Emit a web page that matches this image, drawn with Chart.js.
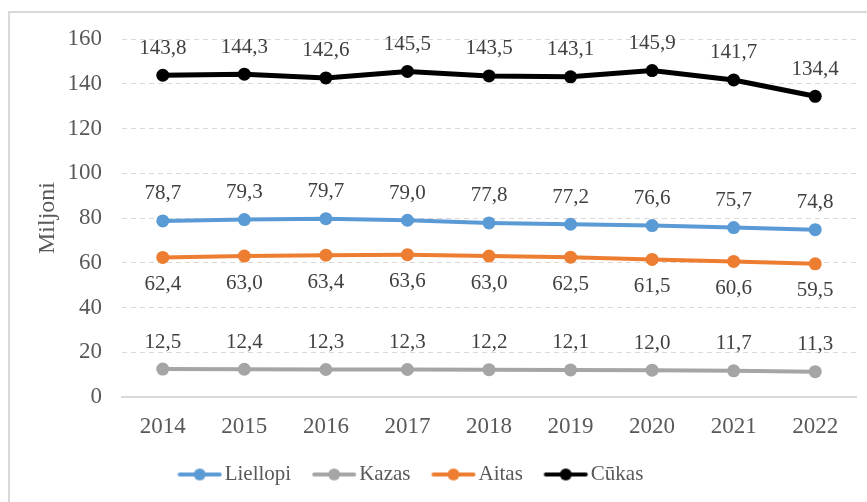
<!DOCTYPE html>
<html>
<head>
<meta charset="utf-8">
<script src="https://cdn.jsdelivr.net/npm/chart.js@4.4.1/dist/chart.umd.min.js"></script>
<style>
  html, body { margin: 0; padding: 0; background: #ffffff; }
  #frame { position: absolute; left: 8px; top: 11px; width: 900px; height: 600px; border: 2px solid #d9d9d9; box-sizing: border-box; }
  #wrap { position: absolute; left: 0; top: 0; width: 867px; height: 502px; }
</style>
</head>
<body>
<div id="frame"></div>
<div id="wrap"><canvas id="c" width="867" height="502"></canvas></div>
<script>
const years = ['2014', '2015', '2016', '2017', '2018', '2019', '2020', '2021', '2022'];
const liellopi = [78.7, 79.3, 79.7, 79.0, 77.8, 77.2, 76.6, 75.7, 74.8];
const kazas = [12.5, 12.4, 12.3, 12.3, 12.2, 12.1, 12.0, 11.7, 11.3];
const aitas = [62.4, 63.0, 63.4, 63.6, 63.0, 62.5, 61.5, 60.6, 59.5];
const cukas = [143.8, 144.3, 142.6, 145.5, 143.5, 143.1, 145.9, 141.7, 134.4];
const seriesNames = ['Liellopi', 'Kazas', 'Aitas', 'Cūkas'];
const seriesColors = ['#5B9BD5', '#A5A5A5', '#ED7D31', '#000000'];
const labelSide = ['above', 'above', 'below', 'above'];
const yTicks = [0, 20, 40, 60, 80, 100, 120, 140, 160];
const yTitle = 'Miljoni';

const SERIF = "'Liberation Serif', 'Times New Roman', serif";

function legendIcon(color) {
  const c = document.createElement('canvas');
  c.width = 66; c.height = 14;
  const g = c.getContext('2d');
  const cx = 42.25;
  g.strokeStyle = color; g.lineWidth = 4; g.lineCap = 'round';
  g.beginPath(); g.moveTo(cx - 20, 7); g.lineTo(cx + 20, 7); g.stroke();
  g.fillStyle = color;
  g.beginPath(); g.arc(cx, 7, 6, 0, Math.PI * 2); g.fill();
  return c;
}

const datasetsData = [liellopi, kazas, aitas, cukas];
const datasets = seriesNames.map((name, i) => ({
  label: name,
  data: datasetsData[i],
  borderColor: seriesColors[i],
  backgroundColor: seriesColors[i],
  borderWidth: i === 3 ? 5 : 4,
  pointRadius: 6.5,
  pointHoverRadius: 6.5,
  pointBorderWidth: 0,
  pointStyle: 'circle',
  tension: 0,
  fill: false,
  labelSide: labelSide[i]
}));

const valueLabels = {
  id: 'valueLabels',
  afterDatasetsDraw(chart) {
    const ctx = chart.ctx;
    ctx.save();
    ctx.font = '21px ' + SERIF;
    ctx.fillStyle = '#404040';
    ctx.textAlign = 'center';
    ctx.textBaseline = 'middle';
    chart.data.datasets.forEach((ds, di) => {
      const meta = chart.getDatasetMeta(di);
      meta.data.forEach((pt, i) => {
        const v = ds.data[i];
        const txt = v.toFixed(1).replace('.', ',');
        const dy = ds.labelSide === 'below' ? 27 : -27;
        ctx.fillText(txt, pt.x, pt.y + dy);
      });
    });
    ctx.restore();
  }
};

const legendShift = {
  id: 'legendShift',
  afterLayout(chart) {
    if (chart.legend) {
      chart.legend.left -= 23;
      chart.legend.right -= 23;
    }
  }
};

new Chart(document.getElementById('c'), {
  type: 'line',
  data: { labels: years, datasets },
  plugins: [valueLabels, legendShift],
  options: {
    responsive: false,
    animation: false,
    events: [],
    layout: { padding: { left: 0, top: 39, right: 11, bottom: 7 } },
    plugins: {
      tooltip: { enabled: false },
      legend: {
        position: 'bottom',
        labels: {
          usePointStyle: true,
          pointStyleWidth: 47.5,
          padding: 10,
          color: '#595959',
          font: { family: SERIF, size: 21 },
          generateLabels(chart) {
            return chart.data.datasets.map((ds, i) => ({
              text: ds.label,
              fillStyle: ds.borderColor,
              strokeStyle: ds.borderColor,
              lineWidth: 0,
              pointStyle: legendIcon(ds.borderColor),
              hidden: false,
              datasetIndex: i,
              fontColor: '#595959'
            }));
          }
        }
      }
    },
    scales: {
      x: {
        offset: true,
        grid: { display: false, drawTicks: false },
        border: { display: true, color: '#d9d9d9', width: 2 },
        ticks: { color: '#595959', font: { family: SERIF, size: 23 }, padding: 16, maxRotation: 0 },
        afterFit(scale) { scale.height = 57; }
      },
      y: {
        min: 0,
        max: 160,
        afterBuildTicks(scale) { scale.ticks = yTicks.map(v => ({ value: v })); },
        grid: { color: '#d9d9d9', lineWidth: 1, drawTicks: false },
        border: { display: false, dash: [5, 4] },
        ticks: { color: '#595959', font: { family: SERIF, size: 23 }, padding: 20 },
        title: { display: true, text: yTitle, color: '#595959', font: { family: SERIF, size: 24 }, padding: { top: 33, bottom: 0 } },
        afterFit(scale) { scale.width = 122; }
      }
    }
  }
});
</script>
</body>
</html>
